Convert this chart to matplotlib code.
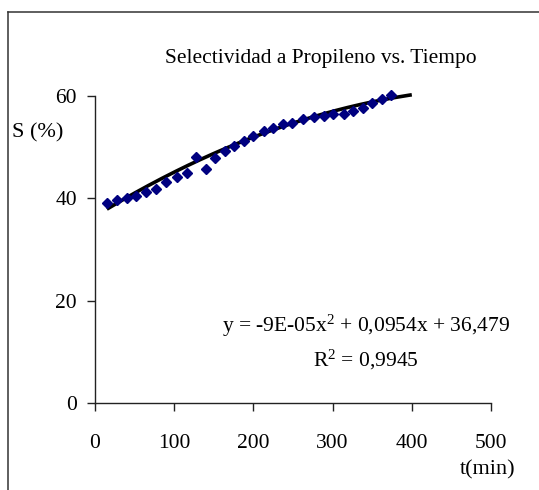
import numpy as np
import matplotlib
matplotlib.use("Agg")
import matplotlib.pyplot as plt
from matplotlib.lines import Line2D

plt.rcParams['font.family'] = ['Liberation Serif', 'DejaVu Serif']
plt.rcParams['mathtext.fontset'] = 'custom'
plt.rcParams['mathtext.rm'] = 'Liberation Serif'
plt.rcParams['mathtext.it'] = 'Liberation Serif:italic'

# Measured propylene selectivity over time
t_min = [15, 28, 40, 52, 65, 77, 90, 103, 116, 128, 140, 152, 164, 176, 188,
         200, 213, 225, 238, 249, 263, 276, 289, 301, 314, 326, 338, 350, 362, 374]
selectivity = [39.0, 39.6, 40.1, 40.4, 41.2, 41.8, 43.1, 44.2, 45.0, 48.0,
               45.8, 47.8, 49.2, 50.3, 51.2, 52.1, 53.2, 53.8, 54.5, 54.8,
               55.5, 55.8, 56.0, 56.4, 56.4, 57.1, 57.7, 58.6, 59.5, 60.1]

# Quadratic trendline coefficients (a*x^2 + b*x + c) and fit quality
fit_coef = [-9e-05, 0.0954, 36.479]
r_squared = "0,9945"
trend_end = 400

x_ticks = [0, 100, 200, 300, 400, 500]
y_ticks = [0, 20, 40, 60]

W, H = 539, 490
fig = plt.figure(figsize=(W / 100, H / 100), dpi=100)
ax = fig.add_axes([95 / W, (H - 403) / H, (491 - 95) / W, (403 - 96) / H])

tt = np.linspace(t_min[0], trend_end, 200)
ax.plot(tt, np.polyval(fit_coef, tt), color='black', lw=2.6, zorder=2,
        clip_on=False, solid_capstyle='butt')
ax.plot(t_min, selectivity, linestyle='none', marker='D', ms=5.2,
        color='#000080', mec='#000080', zorder=3, clip_on=False)

ax.set_xlim(0, 500)
ax.set_ylim(0, 60)
ax.set_xticks(x_ticks)
ax.set_yticks(y_ticks)
ax.tick_params(axis='x', direction='out', length=6, width=1, pad=16,
               labelsize=15.5, color='#222222')
ax.tick_params(axis='y', direction='out', length=6, width=1, pad=7,
               labelsize=15.5, color='#222222')
for side in ('top', 'right'):
    ax.spines[side].set_visible(False)
for side in ('left', 'bottom'):
    ax.spines[side].set_color('#222222')
    ax.spines[side].set_linewidth(1)

fig.text(321 / W, 1 - 58 / H, "Selectividad a Propileno vs. Tiempo",
         ha='center', va='center', fontsize=15.5)
fig.text(12 / W, 1 - 133 / H, "S (%)", ha='left', va='center', fontsize=16)
fig.text(515 / W, 1 - 470 / H, "t(min)", ha='right', va='center', fontsize=16)

# Trendline label block, centred lines ending near the right edge
eq_center = 366
fig.text(eq_center / W, 1 - 326 / H,
         r"y = -9E-05x$^\mathregular{2}$ + 0,0954x + 36,479",
         ha='center', va='center', fontsize=15.5)
fig.text(eq_center / W, 1 - 360 / H, r"R$^\mathregular{2}$ = " + r_squared,
         ha='center', va='center', fontsize=15.5)

# Chart frame
fig.add_artist(Line2D([8 / W, 8 / W], [0, 1 - 12 / H], transform=fig.transFigure,
                      color='#333333', lw=1.1))
fig.add_artist(Line2D([8 / W, 1], [1 - 12 / H, 1 - 12 / H], transform=fig.transFigure,
                      color='#333333', lw=1.1))

fig.savefig("out.png", dpi=100)
